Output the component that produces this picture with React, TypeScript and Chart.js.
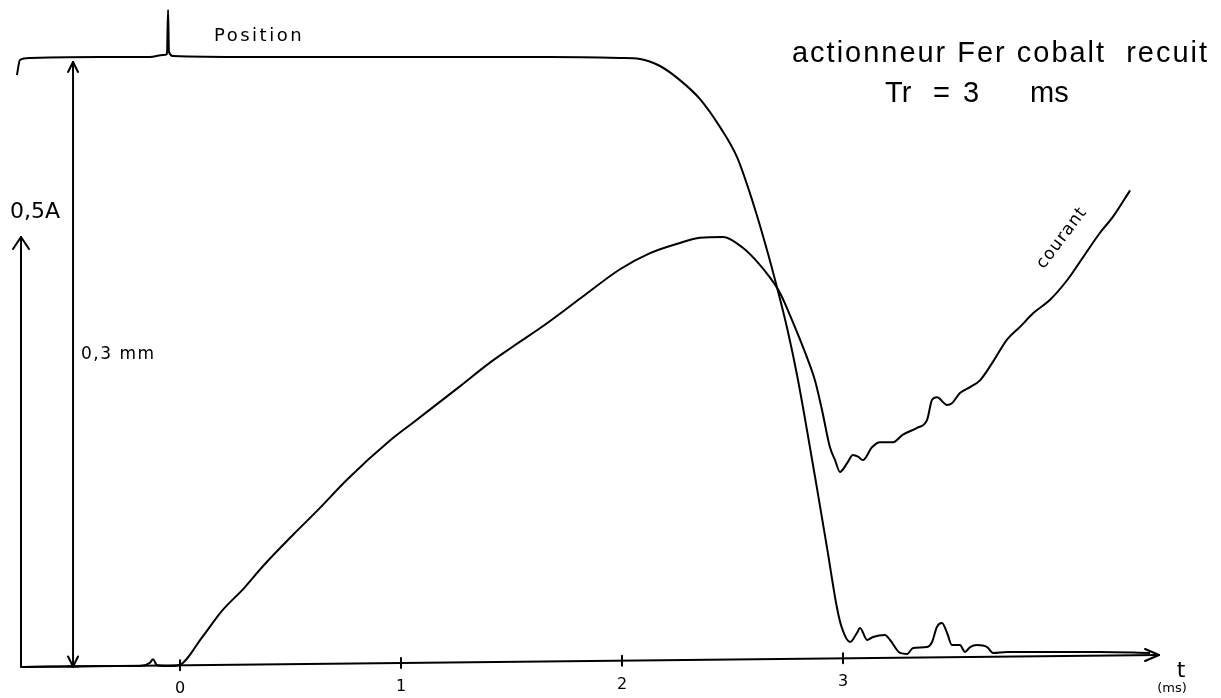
import React, { useEffect, useRef } from "react";
import { Chart, registerables } from "chart.js";
Chart.register(...registerables);

// ---- data ----
const positionTimeMs = [
  -0.738, -0.724, -0.679, -0.362, -0.136, -0.077, -0.059, -0.054, -0.05, -0.032, 0.317, 1.0, 1.674,
  1.991, 2.081, 2.172, 2.262, 2.353, 2.443, 2.52, 2.593, 2.656, 2.701, 2.747, 2.792, 2.837, 2.882,
  2.928, 2.973, 2.995, 3.032, 3.063, 3.077, 3.109, 3.136, 3.19, 3.213, 3.258, 3.29, 3.317, 3.38,
  3.403, 3.425, 3.448, 3.471, 3.493, 3.529, 3.552, 3.575, 3.606, 3.652, 3.679, 3.742, 4.163, 4.389,
];
const positionMm = [
  0.2905, 0.298, 0.299, 0.2995, 0.2995, 0.3004, 0.301, 0.3228, 0.302, 0.3, 0.2995, 0.2995, 0.2995,
  0.299, 0.2985, 0.295, 0.288, 0.2786, 0.2648, 0.2499, 0.2271, 0.2038, 0.1854, 0.1651, 0.1418,
  0.1145, 0.0858, 0.056, 0.0263, 0.0164, 0.0094, 0.0139, 0.0164, 0.0104, 0.0119, 0.0129, 0.0104,
  0.004, 0.0035, 0.0064, 0.0069, 0.0094, 0.0169, 0.0188, 0.0139, 0.0079, 0.0079, 0.0045, 0.0069,
  0.0079, 0.0069, 0.004, 0.0045, 0.0045, 0.004,
];
const currentTimeMs = [
  -0.701, -0.362, -0.181, -0.136, -0.122, -0.104, -0.045, -0.005, 0.1, 0.186, 0.29, 0.376, 0.516,
  0.62, 0.76, 0.95, 1.054, 1.262, 1.398, 1.502, 1.643, 1.814, 1.991, 2.127, 2.262, 2.353, 2.457,
  2.548, 2.611, 2.67, 2.715, 2.774, 2.837, 2.873, 2.905, 2.941, 2.964, 2.986, 3.018, 3.045, 3.068,
  3.09, 3.131, 3.167, 3.226, 3.271, 3.335, 3.38, 3.403, 3.425, 3.471, 3.493, 3.529, 3.575, 3.62,
  3.679, 3.742, 3.801, 3.86, 3.937, 4.014, 4.086, 4.163, 4.222, 4.299,
];
const currentA = [
  -0.007, -0.006, -0.006, -0.002, 0.002, -0.005, -0.006, -0.005, 0.028, 0.058, 0.086, 0.112, 0.150,
  0.177, 0.215, 0.260, 0.281, 0.323, 0.351, 0.370, 0.395, 0.428, 0.462, 0.481, 0.493, 0.499, 0.5,
  0.487, 0.471, 0.452, 0.434, 0.399, 0.358, 0.331, 0.296, 0.252, 0.237, 0.223, 0.233, 0.243, 0.241,
  0.237, 0.252, 0.258, 0.258, 0.267, 0.275, 0.284, 0.308, 0.311, 0.302, 0.304, 0.316, 0.323, 0.331,
  0.353, 0.379, 0.394, 0.41, 0.426, 0.449, 0.476, 0.505, 0.524, 0.555,
];
const tickValuesMs = [0, 1, 2, 3];
const tickLabels = ["0", "1", "2", "3"];
const axisStartMs = -0.715;
const axisEndMs = 4.43;
const positionScaleMm = 0.3;
const positionArrowMs = -0.484;
const currentScaleA = 0.5;
const currentArrowMs = -0.7195;

const titleLine1 = "actionneur Fer cobalt  recuit";
const titleLine2 = ["Tr", "=", "3", "ms"];
const labelPosition = "Position";
const labelCourant = "courant";
const labelCurrentScale = "0,5A";
const labelPositionScale = "0,3 mm";
const labelAxis = "t";
const labelUnit = "(ms)";

const decorPlugin = {
  id: "decor",
  afterDatasetsDraw(chart: any) {
    const ctx = chart.ctx as CanvasRenderingContext2D;
    const xs = chart.scales.x;
    const yp = chart.scales.yPos;
    const yc = chart.scales.yCur;
    const X = (t: number) => xs.getPixelForValue(t);
    const zeroY = yc.getPixelForValue(0);
    const xa = X(axisStartMs);
    const xb = X(axisEndMs);
    const axisY = (px: number) => zeroY + 6 - (12 * (px - xa)) / (xb - xa);
    const line = (x1: number, y1: number, x2: number, y2: number) => {
      ctx.beginPath();
      ctx.moveTo(x1, y1);
      ctx.lineTo(x2, y2);
      ctx.stroke();
    };
    ctx.save();
    ctx.strokeStyle = "#000";
    ctx.fillStyle = "#000";
    ctx.lineWidth = 2;
    ctx.lineCap = "round";
    ctx.lineJoin = "round";

    // time axis with arrow
    line(xa, axisY(xa), xb, axisY(xb));
    line(xb, axisY(xb), xb - 14, axisY(xb) - 6);
    line(xb, axisY(xb), xb - 14, axisY(xb) + 6);

    // ticks and labels
    ctx.font = "16px 'DejaVu Sans'";
    ctx.textAlign = "center";
    ctx.textBaseline = "middle";
    tickValuesMs.forEach((t, i) => {
      const px = X(t);
      const ay = axisY(px);
      line(px, ay - 5, px, ay + 5);
      ctx.fillText(tickLabels[i], px, ay + 24);
    });

    // axis name and unit
    ctx.font = "22px 'DejaVu Sans'";
    ctx.fillText(labelAxis, xb + 22, axisY(xb) + 16);
    ctx.font = "13px 'DejaVu Sans'";
    ctx.fillText(labelUnit, xb + 13, axisY(xb) + 34);

    // 0,3 mm double arrow
    const pax = X(positionArrowMs);
    const pTop = yp.getPixelForValue(positionScaleMm * 0.99);
    const pBot = axisY(pax);
    line(pax, pTop, pax, pBot);
    line(pax, pTop, pax - 5, pTop + 10);
    line(pax, pTop, pax + 5, pTop + 10);
    line(pax, pBot, pax - 5, pBot - 10);
    line(pax, pBot, pax + 5, pBot - 10);
    line(pax - 5, pBot, pax + 5, pBot);

    // 0,5A arrow
    const cax = X(currentArrowMs);
    const cTop = yc.getPixelForValue(currentScaleA);
    const cBot = axisY(cax);
    line(cax, cTop, cax, cBot);
    line(cax, cTop, cax - 8, cTop + 12);
    line(cax, cTop, cax + 8, cTop + 12);

    // handwritten labels
    ctx.textAlign = "left";
    ctx.font = "22px 'DejaVu Sans'";
    ctx.fillText(labelCurrentScale, cax - 11, cTop - 25);
    ctx.font = "17px 'DejaVu Sans'";
    (ctx as any).letterSpacing = "1.5px";
    ctx.fillText(labelPositionScale, pax + 8, yp.getPixelForValue(0.152));
    ctx.font = "18px 'DejaVu Sans'";
    (ctx as any).letterSpacing = "2.5px";
    ctx.fillText(labelPosition, 214, 36);
    (ctx as any).letterSpacing = "1px";

    ctx.save();
    ctx.translate(1062, 238);
    ctx.rotate((-53 * Math.PI) / 180);
    ctx.textAlign = "center";
    ctx.font = "17px 'DejaVu Sans'";
    ctx.fillText(labelCourant, 0, 0);
    ctx.restore();
    (ctx as any).letterSpacing = "0px";

    // typed title
    ctx.textBaseline = "alphabetic";
    ctx.textAlign = "left";
    ctx.font = "29px 'Liberation Sans'";
    const w = ctx.measureText(titleLine1).width;
    const target = 415;
    (ctx as any).letterSpacing = `${(target - w) / (titleLine1.length - 1)}px`;
    ctx.fillText(titleLine1, 792, 62);
    (ctx as any).letterSpacing = "0px";
    const xs2 = [885, 933, 963, 1030];
    titleLine2.forEach((s, i) => ctx.fillText(s, xs2[i], 102));

    ctx.restore();
  },
};

export default function App() {
  const ref = useRef<HTMLCanvasElement>(null);
  useEffect(() => {
    document.body.style.margin = "0";
    const canvas = ref.current!;
    const chart = new Chart(canvas, {
      type: "line",
      data: {
        datasets: [
          {
            label: "Position",
            data: positionTimeMs.map((t, i) => ({ x: t, y: positionMm[i] })),
            yAxisID: "yPos",
            borderColor: "#000",
            borderWidth: 2,
            pointRadius: 0,
            cubicInterpolationMode: "monotone",
            fill: false,
          },
          {
            label: "courant",
            data: currentTimeMs.map((t, i) => ({ x: t, y: currentA[i] })),
            yAxisID: "yCur",
            borderColor: "#000",
            borderWidth: 2,
            pointRadius: 0,
            cubicInterpolationMode: "monotone",
            fill: false,
          },
        ],
      },
      options: {
        animation: false,
        responsive: false,
        maintainAspectRatio: false,
        layout: { padding: 0 },
        plugins: { legend: { display: false }, tooltip: { enabled: false }, title: { display: false } },
        scales: {
          x: { type: "linear", min: -0.8145, max: 4.7104, display: false },
          yPos: { type: "linear", min: -0.01834, max: 0.32772, display: false },
          yCur: { type: "linear", min: -0.04363, max: 0.77948, display: false },
        },
      },
      plugins: [decorPlugin],
    });
    return () => chart.destroy();
  }, []);
  return (
    <div style={{ position: "fixed", left: 0, top: 0, width: 1221, height: 698, background: "#fff" }}>
      <canvas ref={ref} width={1221} height={698} style={{ display: "block" }} />
    </div>
  );
}
